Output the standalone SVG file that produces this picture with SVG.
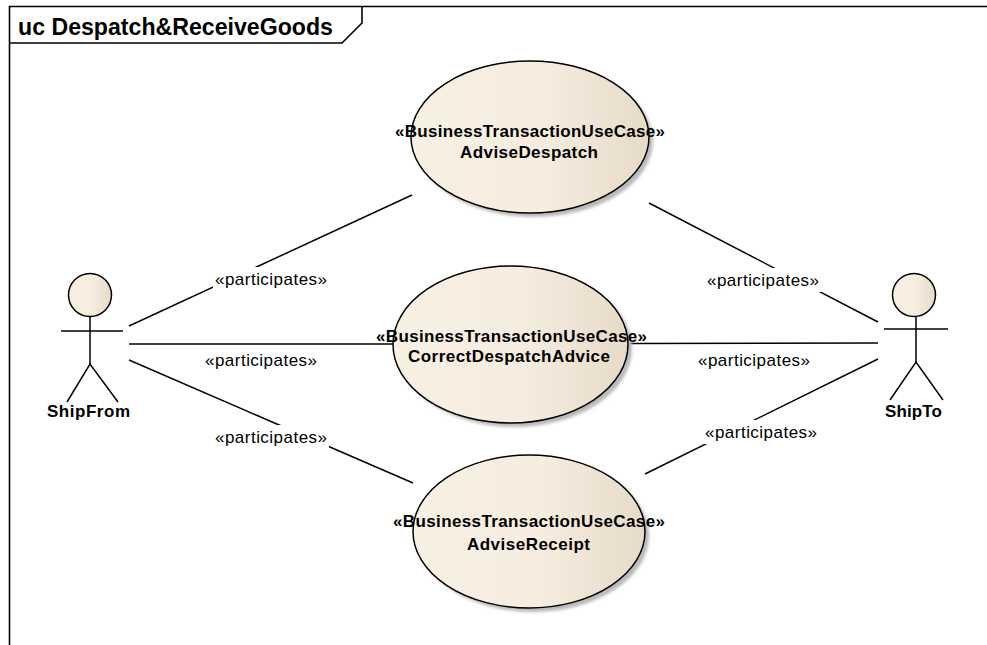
<svg xmlns="http://www.w3.org/2000/svg" width="987" height="645" viewBox="0 0 987 645">
<style>
.frame{fill:none;stroke:#000;stroke-width:1.6}
.uc{stroke:#000;stroke-width:1.5;fill:url(#g)}
.shadow{fill:#b9b9b9}
.act{stroke:#000;stroke-width:1.5;fill:none}
.head{stroke:#000;stroke-width:1.5;fill:url(#g)}
.conn line{stroke:#000;stroke-width:1.5}
.lblbg{fill:#fff}
.lbl{font-family:"Liberation Sans",Arial,sans-serif;font-size:17px;fill:#000;text-anchor:middle}
.nt{font-family:"Liberation Sans",Arial,sans-serif;font-size:17px;font-weight:bold;fill:#000;text-anchor:middle}
.title{font-family:"Liberation Sans",Arial,sans-serif;font-size:23px;font-weight:bold;fill:#000}
</style>
<defs>
<linearGradient id="g" x1="0" y1="0" x2="1" y2="0">
<stop offset="0" stop-color="#f8f0e3"/>
<stop offset="0.55" stop-color="#f6ede0"/>
<stop offset="1" stop-color="#e7dac8"/>
</linearGradient>
<filter id="blur" x="-10%" y="-10%" width="120%" height="120%"><feGaussianBlur stdDeviation="1.5"/></filter>
</defs>
<rect width="987" height="645" fill="#fff"/>
<g id="frame">
<path class="frame" d="M9.5,645 V6.5 H987"/>
<path class="frame" d="M9.5,43 H342 L362,23 V6.5"/>
<text class="title" x="18" y="35" textLength="315" lengthAdjust="spacingAndGlyphs">uc Despatch&amp;ReceiveGoods</text>
</g>
<g id="connectors" class="conn">
<line x1="129" y1="326" x2="412" y2="195"/>
<line x1="129" y1="344" x2="393" y2="344"/>
<line x1="129" y1="360" x2="413" y2="483"/>
<line x1="649" y1="203" x2="878" y2="322"/>
<line x1="630" y1="343.5" x2="878" y2="343"/>
<line x1="645" y1="474" x2="878" y2="359"/>
<rect class="lblbg" x="213" y="267" width="116" height="24"/>
<rect class="lblbg" x="203" y="348" width="116" height="24"/>
<rect class="lblbg" x="213" y="425" width="116" height="24"/>
<rect class="lblbg" x="705" y="268" width="116" height="24"/>
<rect class="lblbg" x="696" y="348" width="116" height="24"/>
<rect class="lblbg" x="703" y="420" width="116" height="24"/>
<text class="lbl" x="271" y="285" textLength="112" lengthAdjust="spacing">«participates»</text>
<text class="lbl" x="261" y="366" textLength="112" lengthAdjust="spacing">«participates»</text>
<text class="lbl" x="271" y="443" textLength="112" lengthAdjust="spacing">«participates»</text>
<text class="lbl" x="763" y="286" textLength="112" lengthAdjust="spacing">«participates»</text>
<text class="lbl" x="754" y="366" textLength="112" lengthAdjust="spacing">«participates»</text>
<text class="lbl" x="761" y="438" textLength="112" lengthAdjust="spacing">«participates»</text>
</g>
<g id="AdviseDespatch">
<ellipse class="shadow" filter="url(#blur)" cx="534" cy="141" rx="119" ry="76"/>
<ellipse class="uc" cx="530" cy="137" rx="119" ry="76"/>
<text class="nt" x="530" y="137" textLength="270" lengthAdjust="spacing">«BusinessTransactionUseCase»</text>
<text class="nt" x="529" y="158" textLength="138" lengthAdjust="spacing">AdviseDespatch</text>
</g>
<g id="CorrectDespatchAdvice">
<ellipse class="shadow" filter="url(#blur)" cx="514.5" cy="348.5" rx="117.5" ry="78.5"/>
<ellipse class="uc" cx="510.5" cy="344.5" rx="117.5" ry="78.5"/>
<text class="nt" x="511.5" y="342" textLength="271" lengthAdjust="spacing">«BusinessTransactionUseCase»</text>
<text class="nt" x="509" y="362" textLength="202" lengthAdjust="spacing">CorrectDespatchAdvice</text>
</g>
<g id="AdviseReceipt">
<ellipse class="shadow" filter="url(#blur)" cx="533" cy="535.5" rx="116" ry="76.5"/>
<ellipse class="uc" cx="529" cy="531.5" rx="116" ry="76.5"/>
<text class="nt" x="529" y="527" textLength="272" lengthAdjust="spacing">«BusinessTransactionUseCase»</text>
<text class="nt" x="528.5" y="550" textLength="123" lengthAdjust="spacing">AdviseReceipt</text>
</g>
<g id="ShipFrom">
<circle class="head" cx="90" cy="295" r="21.5"/>
<line class="act" x1="61" y1="331" x2="123" y2="331"/>
<line class="act" x1="90" y1="316.5" x2="90" y2="364"/>
<polyline class="act" points="67,402 90,364 118,402"/>
<text class="nt" x="88.5" y="417" textLength="83" lengthAdjust="spacing">ShipFrom</text>
</g>
<g id="ShipTo">
<circle class="head" cx="914" cy="295" r="21.5"/>
<line class="act" x1="884" y1="329" x2="948" y2="329"/>
<line class="act" x1="916" y1="316.5" x2="916" y2="362"/>
<polyline class="act" points="890,400 916,362 943,400"/>
<text class="nt" x="913.5" y="417" textLength="57" lengthAdjust="spacing">ShipTo</text>
</g>
</svg>
